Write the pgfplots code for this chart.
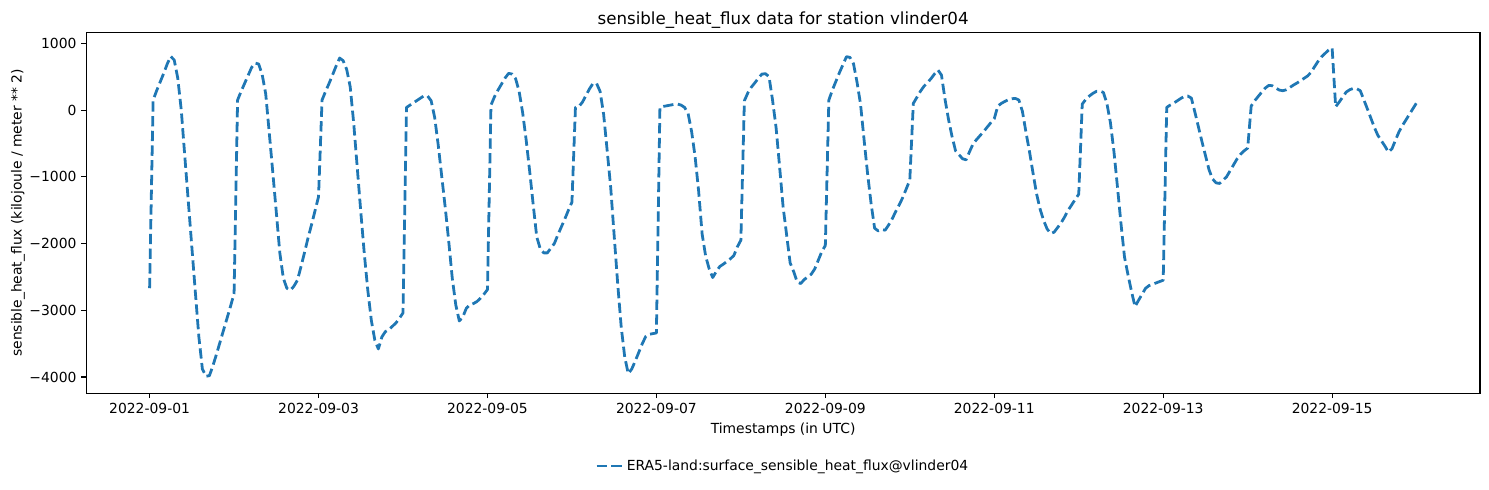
\documentclass[border=0pt]{standalone}
\usepackage{pgfplots}
\usepackage{pgfplotstable}
\pgfplotsset{compat=1.18}
\usepackage{fontspec}
\setmainfont{DejaVu Sans}
\definecolor{mplblue}{HTML}{1F77B4}

\pgfplotstableread{
h v
0 -2670
1 150
2 290
3 420
4 550
5 690
6 805
7 750
8 480
9 0
10 -690
11 -1370
12 -2050
13 -2730
14 -3400
15 -3880
16 -3990
17 -3980
18 -3830
19 -3660
20 -3480
21 -3300
22 -3120
23 -2940
24 -2750
25 150
26 280
27 400
28 520
29 640
30 705
31 690
32 530
33 240
34 -340
35 -930
36 -1530
37 -2140
38 -2520
39 -2670
40 -2700
41 -2640
42 -2550
43 -2350
44 -2140
45 -1920
46 -1720
47 -1510
48 -1300
49 150
50 280
51 400
52 530
53 660
54 780
55 740
56 610
57 350
58 -200
59 -860
60 -1520
61 -2150
62 -2700
63 -3150
64 -3450
65 -3580
66 -3400
67 -3320
68 -3290
69 -3240
70 -3190
71 -3120
72 -3040
73 40
74 75
75 110
76 145
77 180
78 215
79 210
80 140
81 -110
82 -520
83 -990
84 -1460
85 -1970
86 -2520
87 -2920
88 -3160
89 -3100
90 -2970
91 -2920
92 -2900
93 -2870
94 -2820
95 -2760
96 -2690
97 75
98 200
99 300
100 390
101 480
102 550
103 540
104 470
105 280
106 -40
107 -450
108 -920
109 -1420
110 -1900
111 -2080
112 -2140
113 -2140
114 -2070
115 -2000
116 -1870
117 -1750
118 -1630
119 -1500
120 -1380
121 40
122 55
123 120
124 220
125 320
126 400
127 400
128 280
129 -60
130 -600
131 -1150
132 -1880
133 -2600
134 -3250
135 -3700
136 -3950
137 -3880
138 -3760
139 -3630
140 -3500
141 -3390
142 -3360
143 -3350
144 -3340
145 40
146 55
147 65
148 75
149 85
150 90
151 75
152 40
153 -50
154 -320
155 -700
156 -1215
157 -1860
158 -2190
159 -2380
160 -2510
161 -2420
162 -2345
163 -2310
164 -2270
165 -2230
166 -2180
167 -2050
168 -1950
169 140
170 260
171 345
172 410
173 480
174 540
175 545
176 500
177 150
178 -260
179 -845
180 -1450
181 -1870
182 -2290
183 -2420
184 -2575
185 -2600
186 -2540
187 -2500
188 -2460
189 -2380
190 -2250
191 -2120
192 -2030
193 150
194 300
195 430
196 560
197 680
198 800
199 790
200 695
201 420
202 90
203 -440
204 -950
205 -1400
206 -1770
207 -1810
208 -1790
209 -1800
210 -1720
211 -1630
212 -1520
213 -1420
214 -1310
215 -1180
216 -1050
217 100
218 190
219 280
220 355
221 410
222 470
223 540
224 600
225 525
226 163
227 -140
228 -396
229 -610
230 -670
231 -730
232 -745
233 -620
234 -505
235 -440
236 -380
237 -320
238 -255
239 -190
240 -130
241 60
242 100
243 130
244 155
245 170
246 175
247 150
248 -20
249 -330
250 -620
251 -940
252 -1250
253 -1480
254 -1650
255 -1780
256 -1850
257 -1830
258 -1760
259 -1690
260 -1600
261 -1500
262 -1420
263 -1340
264 -1260
265 90
266 160
267 210
268 250
269 280
270 285
271 265
272 100
273 -187
274 -620
275 -1150
276 -1700
277 -2200
278 -2470
279 -2720
280 -2945
281 -2850
282 -2760
283 -2670
284 -2630
285 -2610
286 -2590
287 -2570
288 -2550
289 40
290 75
291 105
292 140
293 175
294 205
295 210
296 180
297 -30
298 -250
299 -470
300 -680
301 -890
302 -1030
303 -1090
304 -1100
305 -1050
306 -1000
307 -910
308 -820
309 -730
310 -660
311 -610
312 -570
313 60
314 140
315 205
316 270
317 330
318 370
319 365
320 330
321 300
322 290
323 305
324 340
325 375
326 405
327 440
328 475
329 510
330 565
331 650
332 730
333 800
334 850
335 900
336 930
337 50
338 120
339 195
340 270
341 305
342 325
343 320
344 290
345 155
346 20
347 -120
348 -260
349 -380
350 -460
351 -540
352 -630
353 -580
354 -450
355 -325
356 -230
357 -145
358 -60
359 25
360 110
}\flux

\begin{document}
\begin{tikzpicture}
\useasboundingbox (-62.1pt,-68.9pt) rectangle (1010.0pt,283.2pt);
\begin{axis}[
  at={(0pt,0pt)}, anchor=south west,
  scale only axis, width=1003.5pt, height=259.9pt,
  xmin=-18, xmax=378, ymin=-4245, ymax=1165,
  xtick={0,48,96,144,192,240,288,336},
  xticklabels={2022-09-01,2022-09-03,2022-09-05,2022-09-07,2022-09-09,2022-09-11,2022-09-13,2022-09-15},
  ytick={-4000,-3000,-2000,-1000,0,1000},
  yticklabels={−4000,−3000,−2000,−1000,0,1000},
  tick align=outside, tick pos=left, major tick length=3.5pt,
  every tick/.style={black, line width=0.8pt},
  axis line style={line width=0.8pt},
  tick label style={font=\fontsize{10}{12}\selectfont},
  label style={font=\fontsize{10}{12}\selectfont},
  title={sensible\_heat\_flux data for station vlinder04},
  every axis title shift=0pt,
  title style={at={(axis description cs:0.5,1.0231)}, anchor=base, font=\fontsize{12}{14}\selectfont},
  xlabel={Timestamps (in UTC)},
  xlabel style={at={(axis description cs:0.5,-0.1108)}, anchor=base},
  ylabel={sensible\_heat\_flux (kilojoule / meter ** 2)},
  ylabel style={at={(axis description cs:-0.04634,0.5)}, anchor=base},
  legend style={at={(0.5,-0.2015)}, anchor=center, draw=none, fill=none, font=\fontsize{10}{12}\selectfont},
  legend cell align=left,
  legend image code/.code={\draw[#1] (0pt,0pt) -- (18.7pt,0pt);},
]
\addplot[mplblue, line width=2pt, dash pattern=on 7.4pt off 3.2pt, line join=round] table[x=h, y=v] {\flux};
\addlegendentry{ERA5-land:surface\_sensible\_heat\_flux@vlinder04}
\end{axis}
\end{tikzpicture}
\end{document}
